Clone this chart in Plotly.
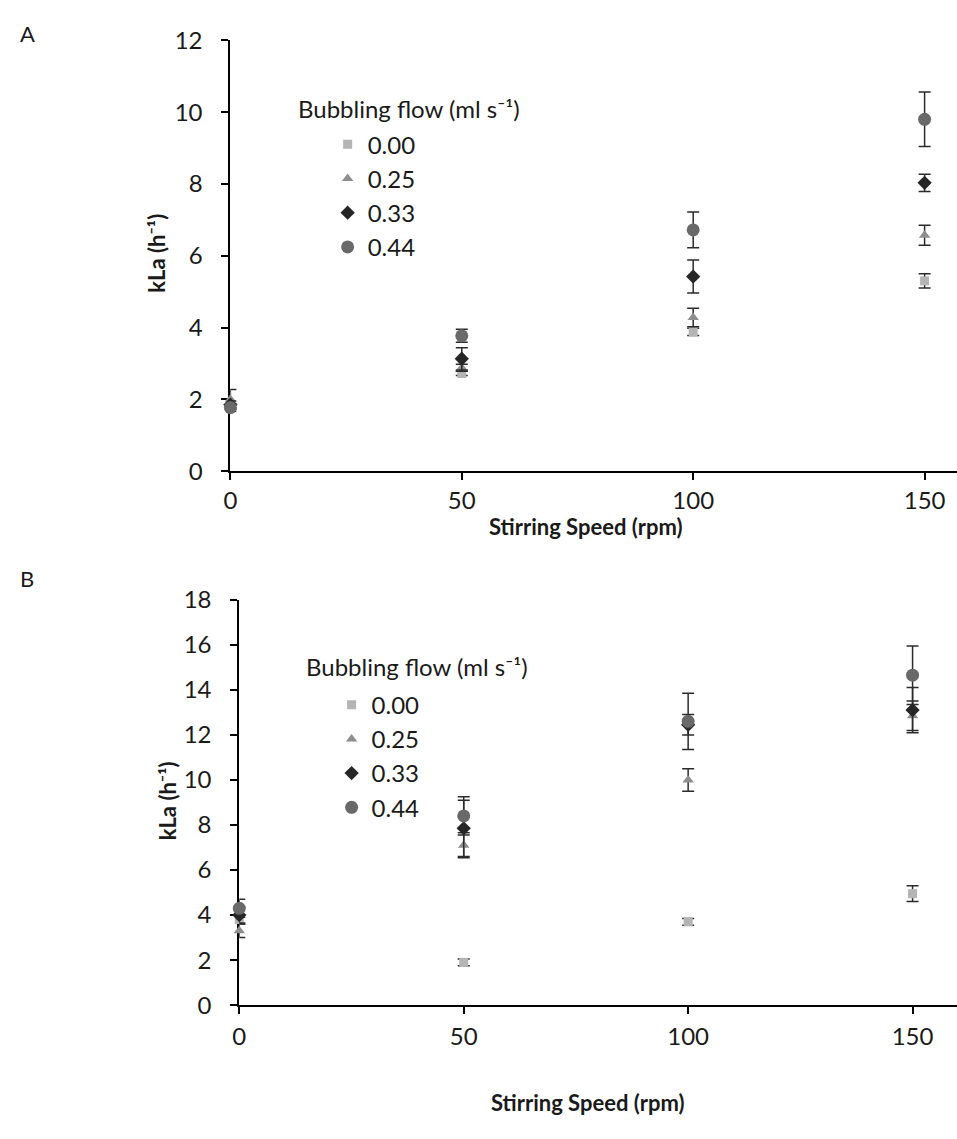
import plotly.graph_objects as go

# Stirring speeds (rpm)
speeds = [0, 50, 100, 150]

# Bubbling flow rates (ml s^-1) used as series names
flow_labels = ["0.00", "0.25", "0.33", "0.44"]

# Panel A: kLa (h^-1) and standard deviations
kla_a_000 = [1.80, 2.72, 3.88, 5.30]
err_a_000 = [0.08, 0.06, 0.10, 0.20]
kla_a_025 = [2.00, 2.88, 4.28, 6.57]
err_a_025 = [0.27, 0.10, 0.26, 0.28]
kla_a_033 = [1.85, 3.13, 5.42, 8.03]
err_a_033 = [0.10, 0.31, 0.46, 0.24]
kla_a_044 = [1.77, 3.77, 6.72, 9.80]
err_a_044 = [0.10, 0.18, 0.50, 0.76]

# Panel B: kLa (h^-1) and standard deviations
kla_b_000 = [3.80, 1.90, 3.70, 4.95]
err_b_000 = [0.20, 0.15, 0.15, 0.35]
kla_b_025 = [3.30, 7.10, 10.00, 12.85]
err_b_025 = [0.30, 0.55, 0.50, 0.65]
kla_b_033 = [4.00, 7.85, 12.45, 13.10]
err_b_033 = [0.35, 1.25, 0.45, 1.00]
kla_b_044 = [4.30, 8.40, 12.60, 14.65]
err_b_044 = [0.40, 0.85, 1.25, 1.30]

W, H = 957, 1139
FONT = "Lato, 'Open Sans', sans-serif"
TXT = "#1a1a1a"

styles = [
    dict(symbol="square", color="#b4b4b4", size=9),
    dict(symbol="triangle-up", color="#8e8e8e", size=10),
    dict(symbol="diamond", color="#262626", size=11),
    dict(symbol="circle", color="#696969", size=13),
]

panel_a = [(kla_a_000, err_a_000), (kla_a_025, err_a_025),
           (kla_a_033, err_a_033), (kla_a_044, err_a_044)]
panel_b = [(kla_b_000, err_b_000), (kla_b_025, err_b_025),
           (kla_b_033, err_b_033), (kla_b_044, err_b_044)]

fig = go.Figure()


def add_panel(series, xref, yref, legend_name, group_prefix):
    for name, (vals, errs), st in zip(flow_labels, series, styles):
        fig.add_trace(go.Scatter(
            x=speeds, y=vals, mode="markers", name=name,
            xaxis=xref, yaxis=yref, legend=legend_name,
            legendgroup=group_prefix + name,
            cliponaxis=False,
            marker=dict(symbol=st["symbol"], color=st["color"], size=st["size"],
                        line=dict(width=0)),
            error_y=dict(type="data", array=errs, visible=True,
                         color="#2b2b2b", thickness=1.5, width=6),
        ))


add_panel(panel_a, "x", "y", "legend", "a")
add_panel(panel_b, "x2", "y2", "legend2", "b")


def px_x(p):
    return p / W


def px_y(p):
    return 1 - p / H


axis_common = dict(
    showline=True, linecolor="black", linewidth=2,
    ticks="outside", ticklen=7, tickwidth=1.5, tickcolor="black",
    showgrid=False, zeroline=False, layer="below traces",
    tickfont=dict(family=FONT, size=24, color=TXT),
)

legend_common = dict(
    bgcolor="rgba(0,0,0,0)", borderwidth=0,
    font=dict(family=FONT, size=24, color=TXT),
    tracegroupgap=0, xanchor="left", yanchor="top",
    itemclick=False, itemdoubleclick=False,
)

fig.update_layout(
    width=W, height=H,
    margin=dict(l=0, r=0, t=0, b=0),
    paper_bgcolor="white", plot_bgcolor="white",
    font=dict(family=FONT, color=TXT),
    xaxis=dict(domain=[px_x(225), 1], range=[0, 157], anchor="y",
               tickvals=[0, 50, 100, 150], ticklabelstandoff=0, **axis_common),
    yaxis=dict(domain=[px_y(467), px_y(25)], range=[0, 12], anchor="x",
               tickvals=list(range(0, 13, 2)), ticklabelstandoff=14, **axis_common),
    xaxis2=dict(domain=[px_x(234), 1], range=[0, 159.9], anchor="y2",
                tickvals=[0, 50, 100, 150], ticklabelstandoff=2, **axis_common),
    yaxis2=dict(domain=[px_y(1015), px_y(599)], range=[0, 18], anchor="x2",
                tickvals=list(range(0, 19, 2)), ticklabelstandoff=14, **axis_common),
    legend=dict(x=px_x(323), y=px_y(109), **legend_common),
    legend2=dict(x=px_x(327), y=px_y(684), **legend_common),
    showlegend=True,
)

ann_font = dict(family=FONT, size=24, color=TXT)
title_font = dict(family=FONT, size=22, color=TXT)

annotations = [
    dict(text="A", x=px_x(11), y=px_y(18), xanchor="left", yanchor="middle",
         font=dict(family=FONT, size=22, color=TXT)),
    dict(text="B", x=px_x(11), y=px_y(577), xanchor="left", yanchor="middle",
         font=dict(family=FONT, size=22, color=TXT)),
    dict(text="Bubbling flow (ml s⁻¹)", x=px_x(291), y=px_y(95),
         xanchor="left", yanchor="middle", font=ann_font),
    dict(text="Bubbling flow (ml s⁻¹)", x=px_x(299), y=px_y(667),
         xanchor="left", yanchor="middle", font=ann_font),
    dict(text="<b>Stirring Speed (rpm)</b>", x=px_x(583), y=px_y(524),
         xanchor="center", yanchor="middle", font=title_font),
    dict(text="<b>Stirring Speed (rpm)</b>", x=px_x(585), y=px_y(1115),
         xanchor="center", yanchor="middle", font=title_font),
    dict(text="<b>kLa (h⁻¹)</b>", x=px_x(151), y=px_y(243), textangle=-90,
         xanchor="center", yanchor="middle", font=title_font),
    dict(text="<b>kLa (h⁻¹)</b>", x=px_x(162), y=px_y(805), textangle=-90,
         xanchor="center", yanchor="middle", font=title_font),
]
for a in annotations:
    a.update(xref="paper", yref="paper", showarrow=False)
fig.update_layout(annotations=annotations)

fig.write_html("out.html")
